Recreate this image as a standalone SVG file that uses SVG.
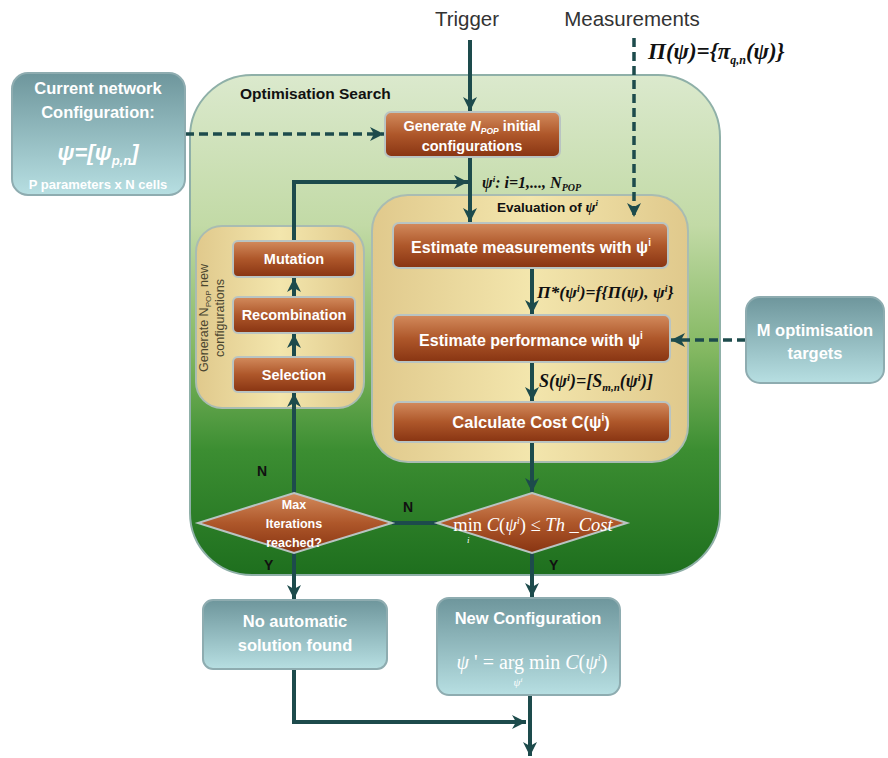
<svg xmlns="http://www.w3.org/2000/svg" width="888" height="758" viewBox="0 0 888 758">
<defs>
<linearGradient id="gGreen" x1="0" y1="0" x2="0" y2="1">
<stop offset="0" stop-color="#dbe9cd"/>
<stop offset="0.3" stop-color="#c2daa6"/>
<stop offset="0.55" stop-color="#84b862"/>
<stop offset="0.75" stop-color="#3c8e32"/>
<stop offset="1" stop-color="#1e6f1e"/>
</linearGradient>
<linearGradient id="gYellow" x1="0" y1="0" x2="1" y2="0">
<stop offset="0" stop-color="#e0c98c"/>
<stop offset="0.5" stop-color="#f3e6ad"/>
<stop offset="1" stop-color="#e0c98c"/>
</linearGradient>
<linearGradient id="gBrown" x1="0" y1="0" x2="0" y2="1">
<stop offset="0" stop-color="#d38b5d"/>
<stop offset="0.5" stop-color="#ae572a"/>
<stop offset="1" stop-color="#883412"/>
</linearGradient>
<linearGradient id="gTeal" x1="0" y1="0" x2="0" y2="1">
<stop offset="0" stop-color="#6e969c"/>
<stop offset="1" stop-color="#b7dfe2"/>
</linearGradient>
<marker id="arr" markerUnits="userSpaceOnUse" markerWidth="16" markerHeight="16" refX="14" refY="8" orient="auto">
<path d="M0,1 L14,8 L0,15 L4,8 z" fill="#1d4b4c"/>
</marker>
<style>
.conn{stroke:#1d4b4c;stroke-width:4;fill:none}
.dash{stroke:#1d4b4c;stroke-width:3.5;fill:none;stroke-dasharray:9 5}
.brown{fill:url(#gBrown);stroke:#b9c4c2;stroke-width:2}
.teal{fill:url(#gTeal);stroke:#8eacb0;stroke-width:2}
.wt{font-family:"Liberation Sans",Arial,sans-serif;font-weight:bold;fill:#ffffff;text-anchor:middle}
.bk{font-family:"Liberation Sans",Arial,sans-serif;font-weight:bold;fill:#111111}
.bi{font-family:"Liberation Serif","Times New Roman",serif;font-weight:bold;font-style:italic;fill:#111111}
.lbl{font-family:"Liberation Sans",Arial,sans-serif;fill:#333333;text-anchor:middle}
.math{font-family:"Liberation Serif","Times New Roman",serif;fill:#ffffff}
</style>
</defs>
<rect width="888" height="758" fill="#ffffff"/>

<g id="optimisation-search">
<rect x="190" y="75" width="530" height="500" rx="62" fill="url(#gGreen)" stroke="#8fb0a8" stroke-width="2"/>
<text class="bk" x="240" y="99" font-size="15.5">Optimisation Search</text>
</g>

<g id="evaluation">
<rect x="372" y="195" width="316" height="267" rx="36" fill="url(#gYellow)" stroke="#a9bcb2" stroke-width="2"/>
<text class="bk" x="497" y="212" font-size="13.5" fill="#222">Evaluation of <tspan class="bi" font-size="15">ψ</tspan><tspan class="bi" font-size="9" dy="-6">i</tspan></text>
</g>

<g id="generate-new">
<rect x="196" y="226" width="168" height="182" rx="26" fill="url(#gYellow)" stroke="#a9bcb2" stroke-width="2"/>
<text transform="translate(208,318) rotate(-90)" font-family="Liberation Sans,Arial,sans-serif" font-size="12.5" fill="#4a4630" text-anchor="middle">Generate N<tspan font-size="8" dy="3">POP</tspan><tspan dy="-3"> new</tspan></text>
<text transform="translate(224,318) rotate(-90)" font-family="Liberation Sans,Arial,sans-serif" font-size="12.5" fill="#4a4630" text-anchor="middle">configurations</text>
</g>

<g id="connectors">
<line class="conn" x1="470" y1="40" x2="470" y2="111" marker-end="url(#arr)"/>
<line class="dash" x1="634" y1="38" x2="634" y2="217" marker-end="url(#arr)"/>
<line class="dash" x1="185" y1="134" x2="384" y2="134" marker-end="url(#arr)"/>
<line class="conn" x1="470" y1="157" x2="470" y2="222" marker-end="url(#arr)"/>
<path class="conn" d="M294,241 V182 H468" marker-end="url(#arr)"/>
<line class="conn" x1="532" y1="268" x2="532" y2="314" marker-end="url(#arr)"/>
<line class="conn" x1="532" y1="362" x2="532" y2="401" marker-end="url(#arr)"/>
<line class="conn" x1="532" y1="442" x2="532" y2="492" marker-end="url(#arr)"/>
<line class="dash" x1="746" y1="340" x2="671" y2="340" marker-end="url(#arr)"/>
<line class="conn" x1="437" y1="523" x2="392" y2="523"/>
<line class="conn" x1="294" y1="493" x2="294" y2="393" marker-end="url(#arr)"/>
<line class="conn" x1="294" y1="357" x2="294" y2="334" marker-end="url(#arr)"/>
<line class="conn" x1="294" y1="297" x2="294" y2="278" marker-end="url(#arr)"/>
<line class="conn" x1="294" y1="553" x2="294" y2="599" marker-end="url(#arr)"/>
<line class="conn" x1="532" y1="553" x2="532" y2="597" marker-end="url(#arr)"/>
<path class="conn" d="M294,669 V722 H526" marker-end="url(#arr)"/>
<line class="conn" x1="530" y1="695" x2="530" y2="756" marker-end="url(#arr)"/>
</g>

<g id="labels">
<text class="lbl" x="467" y="26" font-size="20.5">Trigger</text>
<text class="lbl" x="632" y="26" font-size="20.5">Measurements</text>
<text class="bi" x="648" y="59" font-size="23">Π(ψ)={π<tspan font-size="12" dy="5">q,n</tspan><tspan dy="-5">(ψ)}</tspan></text>
<text class="bi" x="482" y="188" font-size="16">ψ<tspan font-size="9" dy="-6">i</tspan><tspan dy="6">: i=1,..., N</tspan><tspan font-size="10" dy="3">POP</tspan></text>
<text class="bi" x="537" y="298" font-size="17.5">Π*(ψ<tspan font-size="10" dy="-6">i</tspan><tspan dy="6">)=f{Π(ψ), ψ</tspan><tspan font-size="10" dy="-6">i</tspan><tspan dy="6">}</tspan></text>
<text class="bi" x="539" y="387" font-size="18">S(ψ<tspan font-size="11" dy="-6">i</tspan><tspan dy="6">)=[S</tspan><tspan font-size="11" dy="4">m,n</tspan><tspan dy="-4">(ψ</tspan><tspan font-size="11" dy="-6">i</tspan><tspan dy="6">)]</tspan></text>
<text class="bk" x="257" y="476" font-size="14">N</text>
<text class="bk" x="403" y="512" font-size="14">N</text>
<text class="bk" x="264" y="570" font-size="14">Y</text>
<text class="bk" x="549" y="570" font-size="14">Y</text>
</g>

<g id="current-config">
<rect class="teal" x="12" y="73" width="173" height="122" rx="16"/>
<text class="wt" x="98" y="94" font-size="16.5" fill="#eef4f5">Current network</text>
<text class="wt" x="98" y="118" font-size="16.5" fill="#eef4f5">Configuration:</text>
<text class="wt" x="98" y="160" font-size="22" font-style="italic">ψ=[ψ<tspan font-size="13" dy="5">p,n</tspan><tspan dy="-5">]</tspan></text>
<text class="wt" x="98" y="189" font-size="13">P parameters x N cells</text>
</g>

<g id="generate-initial">
<rect class="brown" x="385" y="112" width="175" height="45" rx="6"/>
<text class="wt" x="472" y="131" font-size="14.5" fill="#f4e8e0">Generate <tspan font-style="italic">N</tspan><tspan font-size="8.5" font-style="italic" dy="3">POP</tspan><tspan dy="-3"> initial</tspan></text>
<text class="wt" x="472" y="151" font-size="14.5" fill="#f4e8e0">configurations</text>
</g>

<g id="estimate-measurements">
<rect class="brown" x="393" y="223" width="275" height="45" rx="6"/>
<text class="wt" x="531" y="253" font-size="16">Estimate measurements with ψ<tspan font-size="10" dy="-7">i</tspan></text>
</g>

<g id="estimate-performance">
<rect class="brown" x="393" y="315" width="277" height="47" rx="6"/>
<text class="wt" x="531" y="346" font-size="16">Estimate performance with ψ<tspan font-size="10" dy="-7">i</tspan></text>
</g>

<g id="calculate-cost">
<rect class="brown" x="393" y="402" width="277" height="40" rx="6"/>
<text class="wt" x="531" y="428" font-size="16.5">Calculate Cost C(ψ<tspan font-size="10" dy="-7">i</tspan><tspan dy="7">)</tspan></text>
</g>

<g id="mutation">
<rect class="brown" x="233" y="241" width="122" height="36" rx="5"/>
<text class="wt" x="294" y="264" font-size="14.5">Mutation</text>
</g>

<g id="recombination">
<rect class="brown" x="233" y="297" width="122" height="36" rx="5"/>
<text class="wt" x="294" y="320" font-size="14.5">Recombination</text>
</g>

<g id="selection">
<rect class="brown" x="233" y="357" width="122" height="35" rx="5"/>
<text class="wt" x="294" y="380" font-size="14.5">Selection</text>
</g>

<g id="max-iterations">
<polygon class="brown" points="294,493 392,523 294,553 198,523"/>
<text class="wt" x="294" y="509" font-size="12.5">Max</text>
<text class="wt" x="294" y="528" font-size="12.5">Iterations</text>
<text class="wt" x="294" y="547" font-size="12.5">reached?</text>
</g>

<g id="cost-threshold">
<polygon class="brown" points="532,493 627,523 532,553 437,523"/>
<text class="math" x="533" y="531" font-size="18.5" text-anchor="middle">min <tspan font-style="italic">C</tspan>(<tspan font-style="italic">ψ</tspan><tspan font-size="11" font-style="italic" dy="-7">i</tspan><tspan dy="7">) ≤ </tspan><tspan font-style="italic">Th _Cost</tspan></text>
<text class="math" x="467" y="543" font-size="9" font-style="italic">i</text>
</g>

<g id="no-solution">
<rect class="teal" x="203" y="600" width="184" height="69" rx="10"/>
<text class="wt" x="295" y="627" font-size="16.5">No automatic</text>
<text class="wt" x="295" y="651" font-size="16.5">solution found</text>
</g>

<g id="new-configuration">
<rect class="teal" x="437" y="598" width="183" height="97" rx="12"/>
<text class="wt" x="528" y="624" font-size="16.5">New Configuration</text>
<text class="math" x="532" y="669" font-size="20" text-anchor="middle"><tspan font-style="italic">ψ</tspan> ' = arg min <tspan font-style="italic">C</tspan>(<tspan font-style="italic">ψ</tspan><tspan font-size="11" font-style="italic" dy="-8">i</tspan><tspan dy="8">)</tspan></text>
<text class="math" x="518" y="686" font-size="11" font-style="italic" text-anchor="middle">ψ<tspan font-size="7" dy="-4">i</tspan></text>
</g>

<g id="m-targets">
<rect class="teal" x="746" y="297" width="138" height="86" rx="14"/>
<text class="wt" x="815" y="336" font-size="16.5">M optimisation</text>
<text class="wt" x="815" y="359" font-size="16.5">targets</text>
</g>
</svg>
